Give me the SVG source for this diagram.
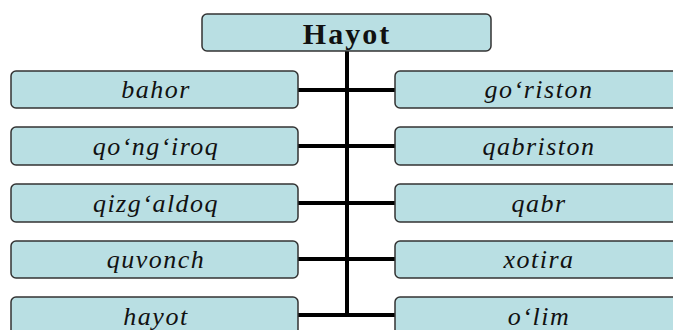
<svg xmlns="http://www.w3.org/2000/svg" width="673" height="330" viewBox="0 0 673 330">
<style>
.box{fill:#b9dfe3;stroke:#333;stroke-width:1.5}
.t{font-family:"Liberation Serif",serif;font-style:italic;font-size:26px;letter-spacing:1.5px;fill:#111;text-anchor:middle}
.h{font-family:"Liberation Serif",serif;font-weight:bold;font-size:30px;letter-spacing:2px;fill:#111;text-anchor:middle}
.c{stroke:#000;stroke-width:4;fill:none}
</style>
<rect width="673" height="330" fill="#fff"/>
<g id="connectors">
<line class="c" x1="347" y1="51" x2="347" y2="317"/>
<line class="c" x1="298" y1="90" x2="395" y2="90"/>
<line class="c" x1="298" y1="146" x2="395" y2="146"/>
<line class="c" x1="298" y1="203" x2="395" y2="203"/>
<line class="c" x1="298" y1="259" x2="395" y2="259"/>
<line class="c" x1="298" y1="315" x2="395" y2="315"/>
</g>
<g id="root"><rect class="box" x="202" y="14" width="289" height="37" rx="5"/><text class="h" x="347" y="44">Hayot</text></g>
<g id="bahor"><rect class="box" x="11" y="71" width="287" height="37" rx="5"/><text class="t" x="156" y="98">bahor</text></g>
<g id="qongiroq"><rect class="box" x="11" y="127" width="287" height="38" rx="5"/><text class="t" x="156" y="155">qo‘ng‘iroq</text></g>
<g id="qizgaldoq"><rect class="box" x="11" y="184" width="287" height="38" rx="5"/><text class="t" x="156" y="212">qizg‘aldoq</text></g>
<g id="quvonch"><rect class="box" x="11" y="241" width="287" height="37" rx="5"/><text class="t" x="156" y="268">quvonch</text></g>
<g id="hayot"><rect class="box" x="11" y="297" width="287" height="40" rx="5"/><text class="t" x="156" y="325">hayot</text></g>
<g id="goriston"><rect class="box" x="395" y="71" width="287" height="37" rx="5"/><text class="t" x="539" y="98">go‘riston</text></g>
<g id="qabriston"><rect class="box" x="395" y="127" width="287" height="38" rx="5"/><text class="t" x="539" y="155">qabriston</text></g>
<g id="qabr"><rect class="box" x="395" y="184" width="287" height="38" rx="5"/><text class="t" x="539" y="212">qabr</text></g>
<g id="xotira"><rect class="box" x="395" y="241" width="287" height="37" rx="5"/><text class="t" x="539" y="268">xotira</text></g>
<g id="olim"><rect class="box" x="395" y="297" width="287" height="40" rx="5"/><text class="t" x="539" y="325">o‘lim</text></g>
</svg>
